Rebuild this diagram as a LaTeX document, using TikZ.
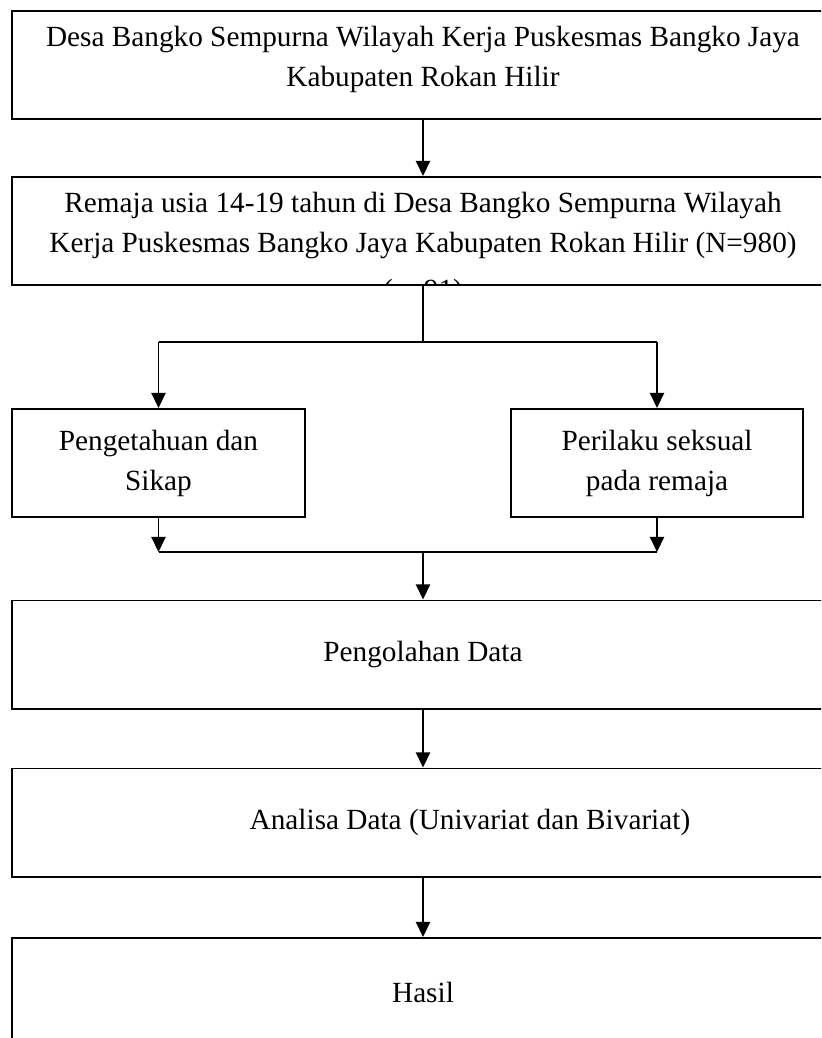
\documentclass[tikz,border=0pt]{standalone}
\usepackage{fontspec}
\setmainfont{Liberation Serif}
\usetikzlibrary{arrows.meta}

\begin{document}
\begin{tikzpicture}[x=0.41pt,y=-0.41pt,>={Triangle[length=6.2pt,width=5.8pt]},line width=0.8pt]
\tikzstyle{wide}=[draw,minimum width=337pt,minimum height=44.3pt,align=center,inner sep=0pt,font=\fontsize{12}{16.4}\selectfont]
\tikzstyle{half}=[wide,minimum width=120pt]
\clip (0,0) rectangle (821,1038);
\node[wide,text depth=6.8pt] (lokasi) at (423,65) {Desa Bangko Sempurna Wilayah Kerja Puskesmas Bangko Jaya\\Kabupaten Rokan Hilir};
\node[wide,text depth=6.8pt] (populasi) at (423,231) {Remaja usia 14-19 tahun di Desa Bangko Sempurna Wilayah\\Kerja Puskesmas Bangko Jaya Kabupaten Rokan Hilir (N=980)};
\begin{scope}
\clip (populasi.north west) rectangle (populasi.south east);
\node[font=\fontsize{12}{16.4}\selectfont,inner sep=0pt] (sampel) at (423,292) {(n=91)};
\end{scope}
\node[half] (sikap) at (158.5,463) {Pengetahuan dan\\Sikap};
\node[half] (perilaku) at (657,463) {Perilaku seksual\\pada remaja};
\node[wide] (olah) at (423,654.5) {Pengolahan Data};
\node[wide] (analisa) at (423,822.5) {\hspace*{38.5pt}Analisa Data (Univariat dan Bivariat)};
\node[wide] (hasil) at (423,992) {Hasil};
\coordinate (split) at (423,342);
\coordinate (merge) at (423,552);
% alur utama
\draw[->] (lokasi) -- (populasi);
\draw (populasi) -- (split);
\draw (sikap.north |- split) -- (perilaku.north |- split);
\foreach \x in {sikap,perilaku}{\draw[->] (\x.north |- split) -- (\x.north);}
\foreach \x in {sikap,perilaku}{\draw[->] (\x.south) -- (\x.south |- merge);}
\draw (sikap.south |- merge) -- (perilaku.south |- merge);
\draw[->] (merge) -- (olah);
\draw[->] (olah) -- (analisa);
\draw[->] (analisa) -- (hasil);
\end{tikzpicture}
\end{document}
